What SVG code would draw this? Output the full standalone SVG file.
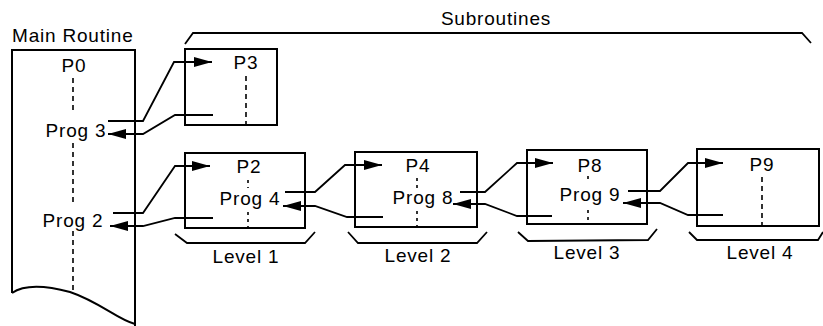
<svg xmlns="http://www.w3.org/2000/svg" width="823" height="326" viewBox="0 0 823 326">
<style>
text{font-family:"Liberation Sans",Arial,sans-serif;font-size:19px;letter-spacing:0.8px;fill:#000}
.c{text-anchor:middle}
.box{fill:none;stroke:#000;stroke-width:2}
.ln{fill:none;stroke:#000;stroke-width:1.8}
.ds{fill:none;stroke:#000;stroke-width:1.6;stroke-dasharray:5 4}
.dt{fill:none;stroke:#000;stroke-width:1.6;stroke-dasharray:3 4}
</style>
<defs>
<marker id="ah" viewBox="0 0 18 10" refX="18" refY="5" markerWidth="18" markerHeight="10" markerUnits="userSpaceOnUse" orient="auto">
<path d="M0,0 L18,5 L0,10 Z" fill="#000"/>
</marker>
</defs>
<g id="main">
<text x="12" y="42">Main Routine</text>
<path class="box" d="M12,293 L12,50 L135,50 L135,326"/>
<path class="box" d="M12,293 C22,286 40,284 70,292 C100,302 118,320 135,324"/>
<text class="c" x="74" y="72">P0</text>
<path class="ds" d="M73,78 V114"/>
<text class="c" x="76" y="137">Prog 3</text>
<path class="ds" d="M73,143 V205"/>
<text class="c" x="73" y="227">Prog 2</text>
<path class="ds" d="M73,231 V293"/>
</g>
<g id="subroutines">
<text class="c" x="496" y="25">Subroutines</text>
<path class="ln" d="M185,44 L193,33 L802,33 L811,43"/>
</g>
<g id="p3">
<rect class="box" x="185" y="49" width="92" height="76"/>
<text class="c" x="246" y="69">P3</text>
<path class="ds" d="M246,76 V125"/>
</g>
<g id="p2">
<rect class="box" x="185" y="153" width="120" height="75"/>
<text class="c" x="249" y="173">P2</text>
<path class="dt" d="M248,180 V188"/>
<text class="c" x="250" y="205">Prog 4</text>
<path class="dt" d="M248,212 V228"/>
</g>
<g id="p4">
<rect class="box" x="355" y="152" width="122" height="75"/>
<text class="c" x="418" y="172">P4</text>
<path class="dt" d="M417,178 V190"/>
<text class="c" x="423" y="204">Prog 8</text>
<path class="dt" d="M417,211 V227"/>
</g>
<g id="p8">
<rect class="box" x="527" y="150" width="120" height="74"/>
<text class="c" x="590" y="172">P8</text>
<path class="dt" d="M588,176 V181"/>
<text class="c" x="590" y="201">Prog 9</text>
<path class="dt" d="M588,210 V224"/>
</g>
<g id="p9">
<rect class="box" x="697" y="149" width="122" height="77"/>
<text class="c" x="762" y="171">P9</text>
<path class="ds" d="M762,177 V226"/>
</g>
<g id="levels">
<path class="ln" d="M175,234 L187,243 L305,243 L315,232"/>
<text class="c" x="246" y="263">Level 1</text>
<path class="ln" d="M348,232 L358,243 L477,243 L487,232"/>
<text class="c" x="418" y="262">Level 2</text>
<path class="ln" d="M518,232 L528,241 L648,240 L657,229"/>
<text class="c" x="587" y="259">Level 3</text>
<path class="ln" d="M689,232 L697,240 L818,240 L823,232"/>
<text class="c" x="760" y="259">Level 4</text>
</g>
<g id="connectors">
<path class="ln" marker-end="url(#ah)" d="M108,121 L143,121 L174,62 L212,62"/>
<path class="ln" marker-end="url(#ah)" d="M213,115 L175,115 L143,134 L108,134"/>
<path class="ln" marker-end="url(#ah)" d="M113,213 L143,213 L175,166 L210,166"/>
<path class="ln" marker-end="url(#ah)" d="M213,218 L175,218 L143,226 L110,226"/>
<path class="ln" marker-end="url(#ah)" d="M285,192 L315,192 L345,165 L382,165"/>
<path class="ln" marker-end="url(#ah)" d="M383,217 L347,217 L315,206 L283,206"/>
<path class="ln" marker-end="url(#ah)" d="M460,192 L485,192 L517,163 L553,163"/>
<path class="ln" marker-end="url(#ah)" d="M552,216 L517,216 L485,204 L453,204"/>
<path class="ln" marker-end="url(#ah)" d="M628,191 L660,191 L688,163 L723,163"/>
<path class="ln" marker-end="url(#ah)" d="M723,215 L688,215 L660,203 L623,203"/>
</g>
</svg>
